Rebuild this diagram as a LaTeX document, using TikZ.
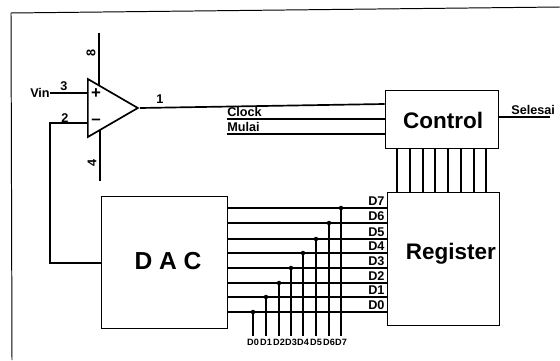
\documentclass[tikz,border=0pt]{standalone}
\usepackage{fontspec}
\usepackage{tikz}
\usetikzlibrary{shapes.geometric}
\setsansfont{Liberation Sans}

\begin{document}
\begin{tikzpicture}[every node/.style={font=\sffamily\bfseries\fontsize{9}{9}\selectfont, inner sep=0pt},
	block/.style={draw, line width=0.7pt, minimum width=#1, anchor=center},
	blocktext/.style={font=\sffamily\bfseries\fontsize{16}{16}\selectfont},
	wire/.style={line width=1.2pt},
	buslabel/.style={font=\sffamily\bfseries\fontsize{6.5}{6.5}\selectfont, inner ysep=2pt},
	portlabel/.style={font=\sffamily\bfseries\fontsize{9}{9}\selectfont}]
	\useasboundingbox (0,0) rectangle (14,9);
	% outer frame
	\coordinate (framebl) at (0.3,0); \coordinate (frametl) at (0.275,8.675); \coordinate (frametr) at (14,8.825);
	\draw[line width=0.7pt] (framebl) -- (frametl) -- (frametr);

	% comparator
	\node[isosceles triangle, isosceles triangle stretches, draw, line width=1.2pt, minimum width=1.45cm, minimum height=1.25cm, anchor=lower side] (opamp) at (2.175,6.3) {};
	\node (plus) at (2.4,6.65) {\fontsize{12}{12}\selectfont +};
	\node (minus) at (2.4,5.95) {\fontsize{12}{12}\selectfont --};
	\coordinate (vcctop) at (2.475,8.175); \coordinate (vcc) at (2.475,6.875);
	\coordinate (veebot) at (2.5,4.475); \coordinate (vee) at (2.5,5.75);
	\draw[wire] (vcctop) -- (vcc); \draw[wire] (vee) -- (veebot);
	\node[rotate=90] (pineight) at (2.275,7.675) {8};
	\node[rotate=90] (pinfour) at (2.3,4.925) {4};
	\node[anchor=east] (vin) at (1.25,6.675) {Vin};
	\coordinate (inplus) at (2.175,6.675); \coordinate (inminus) at (2.175,5.925);
	\draw[wire] (vin.east) -- (inplus);
	\node (pinthree) at (1.6,6.85) {3};
	\node (pintwo) at (1.625,6.05) {2};
	\node (pinone) at (4,6.525) {1};

	% blocks
	\node[block=3.15cm, minimum height=3.3cm] (dac) at (4.1,2.45) {};
	\node[block=2.825cm, minimum height=1.45cm] (control) at (11.04,6.025) {};
	\node[block=2.8cm, minimum height=3.31cm] (register) at (11.075,2.525) {};
	\node[blocktext] (dactext) at (4.2,2.475) {\fontsize{17.5}{17.5}\selectfont D A C};
	\node[blocktext] (controltext) at (11.08,6) {Control};
	\node[blocktext] (registertext) at (11.27,2.65) {Register};

	% feedback and output
	\coordinate (fbcorner) at (1.25,5.925); \coordinate (fblow) at (1.25,2.425);
	\draw[wire] (inminus) -- (fbcorner) -- (fblow) -- (fblow -| dac.west);
	\coordinate (clockstart) at (5.675,6.025); \coordinate (mulaistart) at (5.675,5.65);
	\draw[wire] (opamp.apex) -- (control.west |- 0,6.4);
	\draw[wire] (clockstart) -- (clockstart -| control.west);
	\draw[wire] (mulaistart) -- (mulaistart -| control.west);
	\node[anchor=west] (clock) at (5.675,6.2) {Clock};
	\node[anchor=west] (mulai) at (5.675,5.83) {Mulai};
	\coordinate (selesaiend) at (13.75,6.075);
	\draw[wire] (selesaiend -| control.east) -- (selesaiend);
	\node (selesai) at (13.33,6.25) {Selesai};

	% control to register
	\foreach \x in {9.925,10.25,10.575,10.875,11.2,11.525,11.85,12.15}
		\draw[wire] (\x,0 |- control.south) -- (\x,0 |- register.north);

	% data lines and bus
	\foreach \i/\yline/\xbus in {0/1.2/6.325,1/1.575/6.65,2/1.925/6.975,3/2.3/7.275,4/2.675/7.575,5/3.025/7.9,6/3.425/8.225,7/3.8/8.525}{
		\coordinate (tap\i) at (\xbus,\yline);
		\draw[wire] (tap\i -| dac.east) -- (tap\i -| register.west);
		\node[portlabel, anchor=east] (port\i) at (9.62,\yline+0.175) {D\i};
		\node[buslabel] (bus\i) at (\xbus,0.45) {D\i};
		\draw[wire] (tap\i) -- (bus\i.north);
		\fill (tap\i) circle (1.6pt);
	}
\end{tikzpicture}
\end{document}
